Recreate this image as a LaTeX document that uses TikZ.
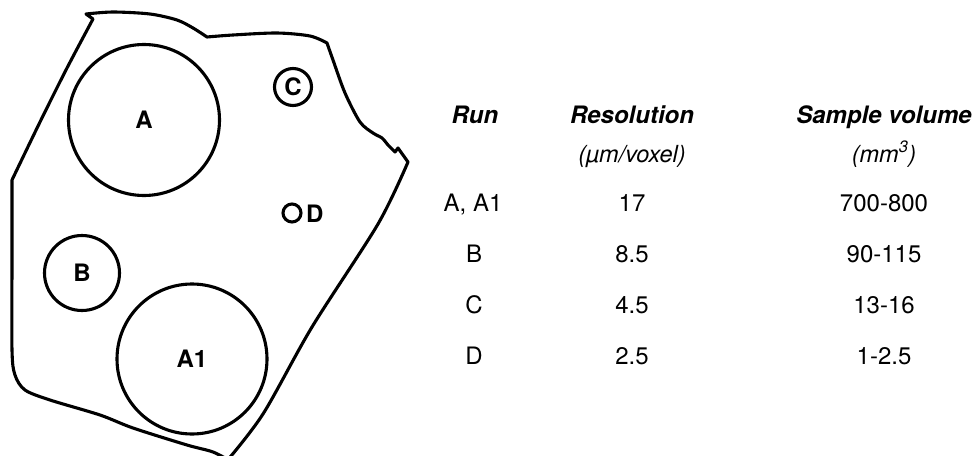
\documentclass[tikz,border=0pt]{standalone}
\usepackage{fontspec}
\setmainfont{TeX Gyre Heros}
\begin{document}
\begin{tikzpicture}[x=1pt,y=-1pt,line join=round,line cap=round,
  outline/.style={line width=3.1pt},
  ring/.style={circle,draw,line width=3.1pt,inner sep=0pt},
  lbl/.style={font=\fontsize{24}{28}\selectfont\bfseries},
  head/.style={anchor=base,font=\fontsize{24}{28}\selectfont\bfseries\itshape},
  sub/.style={anchor=base,font=\fontsize{23.5}{28}\selectfont\itshape},
  cell/.style={anchor=base,font=\fontsize{24}{28}\selectfont}]
\useasboundingbox (0,0) rectangle (974,455);
\begin{scope}
\clip (0,0) rectangle (974,455);
% sample outline
\draw[outline]
  plot[smooth,tension=0.5] coordinates {(232,462) (213,452) (187,445) (133,428) (100,415) (50,400) (25,390) (15,375) (12,350) (12,260) (12,180)}
  -- plot[smooth,tension=0.5] coordinates {(12,180) (40,122) (67,68) (93,19)}
  -- (86,14)
  -- plot[smooth,tension=0.5] coordinates {(86,14) (113,12) (150,14) (177,20) (193,28) (207,37)}
  -- plot[smooth,tension=0.5] coordinates {(207,37) (233,35) (277,33) (310,36) (327,43)}
  -- plot[smooth,tension=0.5] coordinates {(327,43) (333,60) (345,93) (360,122) (373,133) (382,138) (388,145) (395,152)}
  -- (398,148) -- (408,162)
  -- plot[smooth,tension=0.5] coordinates {(408,162) (378,224) (312,327) (263,414) (226,462)};
\end{scope}
% scan regions
\node[ring,minimum size=151pt] (A) at (144,120) {};
\node[lbl] at (A) {A};
\node[ring,minimum size=75pt] (B) at (82,273) {};
\node[lbl] at (B) {B};
\node[ring,minimum size=150pt] (A1) at (192,359) {};
\node[lbl] at (A1) {A1};
\node[ring,minimum size=37pt] (C) at (293,87) {};
\node[lbl] at (C) {C};
\node[ring,minimum size=18pt] (D) at (292,213) {};
\node[lbl,anchor=west,inner sep=0pt] (Dl) at (306,214) {D};
% table
\node[head] (h1) at (475,123) {Run};
\node[head] (h2) at (632,123) {Resolution};
\node[head] (h3) at (884,123) {Sample volume};
\node[sub] (s2) at (632,162) {(µm/voxel)};
\node[sub] (s3) at (884,162) {(mm\textsuperscript{3})};
\node[cell] (r1a) at (473,211) {A, A1};
\node[cell] (r1b) at (632,211) {17};
\node[cell] (r1c) at (884,211) {700-800};
\node[cell] (r2a) at (474,262) {B};
\node[cell] (r2b) at (632,262) {8.5};
\node[cell] (r2c) at (884,262) {90-115};
\node[cell] (r3a) at (474,313) {C};
\node[cell] (r3b) at (632,313) {4.5};
\node[cell] (r3c) at (884,313) {13-16};
\node[cell] (r4a) at (474,364) {D};
\node[cell] (r4b) at (632,364) {2.5};
\node[cell] (r4c) at (884,364) {1-2.5};
\end{tikzpicture}
\end{document}
